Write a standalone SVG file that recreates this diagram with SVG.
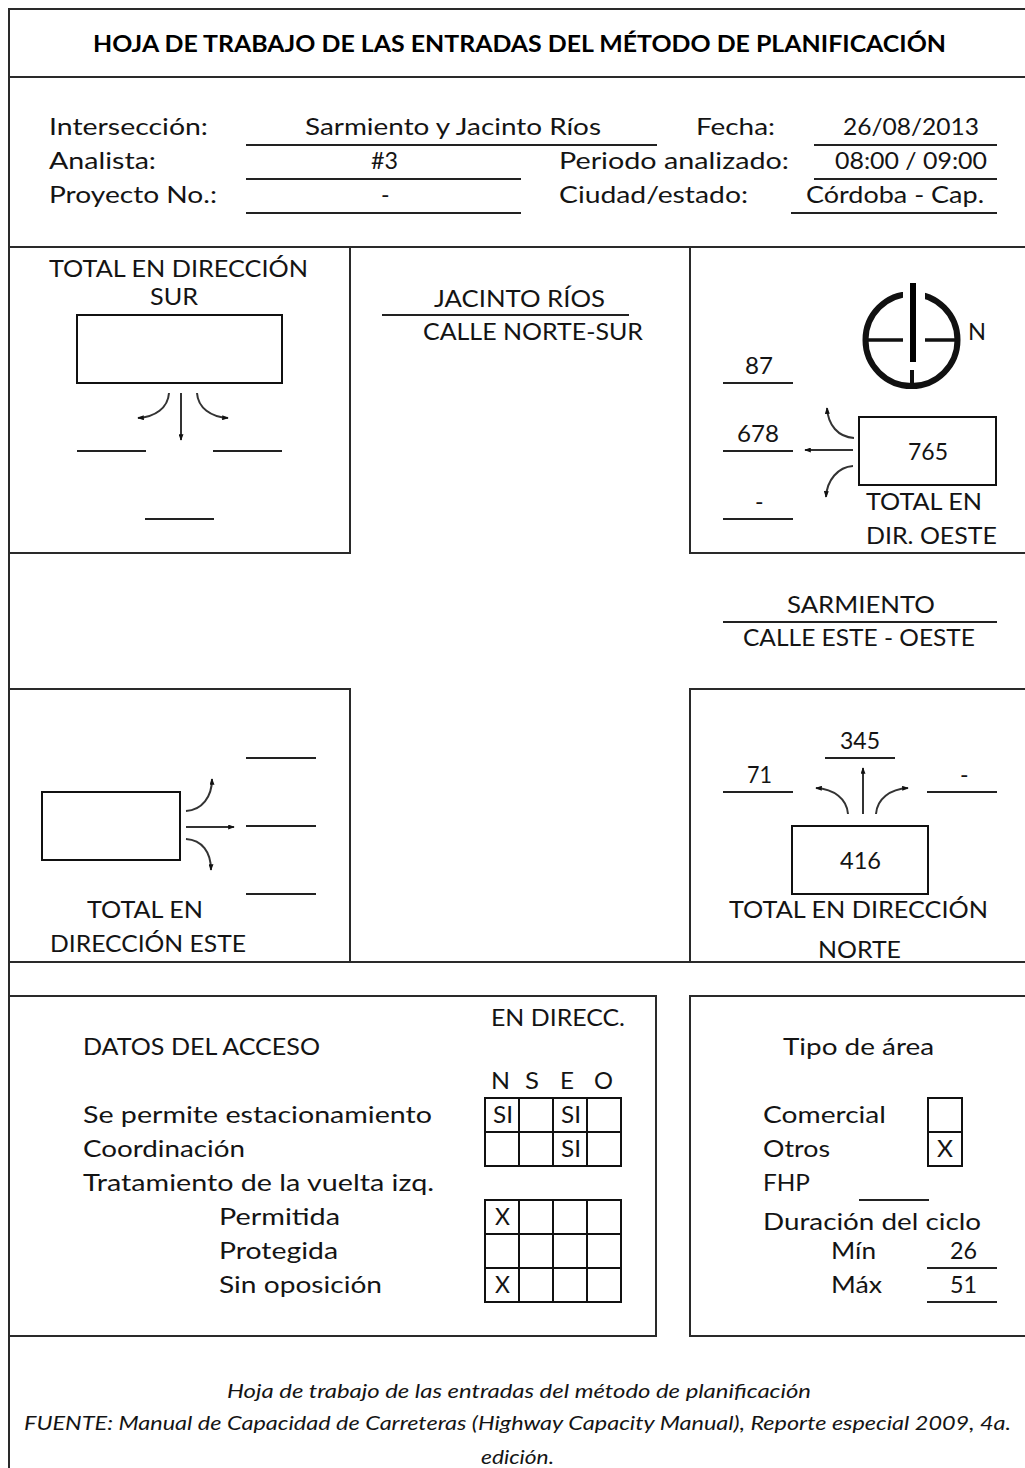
<svg xmlns="http://www.w3.org/2000/svg" width="1025" height="1468" viewBox="0 0 1025 1468">
<style>
text{font-family:"Lato","Open Sans","Liberation Sans",sans-serif;font-size:23px;fill:#141414}
.t{font-weight:700;font-size:23.5px;fill:#000}
.f{font-style:italic;font-size:19px}
.b{fill:none;stroke:#2a2a2a;stroke-width:2}
.r{stroke:#222;stroke-width:2;fill:none}
.g{fill:none;stroke:#111;stroke-width:2}
.a{fill:none;stroke:#333;stroke-width:2;marker-end:url(#h)}
</style>
<defs>
<marker id="h" viewBox="0 0 8 6" refX="7" refY="3" markerWidth="7" markerHeight="5" markerUnits="userSpaceOnUse" orient="auto"><path d="M0 0L8 3L0 6Z" fill="#111"/></marker>
</defs>
<rect width="1025" height="1468" fill="#fff"/>
<g id="frame">
<path class="b" d="M1025 9H9V1468M9 77H1025M9 247H1025M9 553H350V247M1025 553H690V247M9 689H350V962M1025 689H690V962M9 962H1025M9 996H656V1336H9M1025 996H690V1336H1025"/>
</g>
<g id="title"><text class="t" x="93" y="52" textLength="853" lengthAdjust="spacingAndGlyphs">HOJA DE TRABAJO DE LAS ENTRADAS DEL MÉTODO DE PLANIFICACIÓN</text></g>
<g id="header">
<path class="r" d="M246 145H657M246 179H521M246 213H521M814 145H997M814 179H997M791 213H997"/>
<text x="49" y="135" textLength="159" lengthAdjust="spacingAndGlyphs">Intersección:</text>
<text x="305" y="135" textLength="296" lengthAdjust="spacingAndGlyphs">Sarmiento y Jacinto Ríos</text>
<text x="696" y="135" textLength="79" lengthAdjust="spacingAndGlyphs">Fecha:</text>
<text x="843" y="135" textLength="136" lengthAdjust="spacingAndGlyphs">26/08/2013</text>
<text x="49" y="169" textLength="107" lengthAdjust="spacingAndGlyphs">Analista:</text>
<text x="371" y="169" textLength="27" lengthAdjust="spacingAndGlyphs">#3</text>
<text x="559" y="169" textLength="230" lengthAdjust="spacingAndGlyphs">Periodo analizado:</text>
<text x="835" y="169" textLength="152" lengthAdjust="spacingAndGlyphs">08:00 / 09:00</text>
<text x="49" y="203" textLength="168" lengthAdjust="spacingAndGlyphs">Proyecto No.:</text>
<text x="381" y="203">-</text>
<text x="559" y="203" textLength="189" lengthAdjust="spacingAndGlyphs">Ciudad/estado:</text>
<text x="806" y="203" textLength="178" lengthAdjust="spacingAndGlyphs">Córdoba - Cap.</text>
</g>
<g id="node-sur">
<rect class="g" x="77" y="315" width="205" height="68"/>
<path class="r" d="M77 451H146M213 451H282M145 519H214"/>
<text x="49" y="277" textLength="259" lengthAdjust="spacingAndGlyphs">TOTAL EN DIRECCIÓN</text>
<text x="150" y="305" textLength="48" lengthAdjust="spacingAndGlyphs">SUR</text>
</g>
<g id="node-jacinto">
<path class="r" d="M382 315H629"/>
<text x="434" y="307" textLength="171" lengthAdjust="spacingAndGlyphs">JACINTO RÍOS</text>
<text x="423" y="340" textLength="220" lengthAdjust="spacingAndGlyphs">CALLE NORTE-SUR</text>
</g>
<g id="node-compass">
<circle cx="911.5" cy="340" r="46" fill="none" stroke="#111" stroke-width="6"/>
<path d="M864 340H959" stroke="#111" stroke-width="3.5"/>
<path d="M912 370V386" stroke="#111" stroke-width="4"/>
<path d="M913 271L897 292H903V370H925V292H931Z" fill="#fff"/>
<path d="M913 283V362" stroke="#000" stroke-width="6"/>
<text x="968" y="340" textLength="18" lengthAdjust="spacingAndGlyphs">N</text>
</g>
<g id="node-oeste">
<rect class="g" x="859" y="417" width="137" height="68"/>
<path class="r" d="M723 383H793M723 451H793M723 519H793"/>
<text x="745" y="374" textLength="28" lengthAdjust="spacingAndGlyphs">87</text>
<text x="737" y="442" textLength="42" lengthAdjust="spacingAndGlyphs">678</text>
<text x="755" y="510">-</text>
<text x="908" y="460" textLength="40" lengthAdjust="spacingAndGlyphs">765</text>
<text x="866" y="510" textLength="116" lengthAdjust="spacingAndGlyphs">TOTAL EN</text>
<text x="866" y="544" textLength="131" lengthAdjust="spacingAndGlyphs">DIR. OESTE</text>
</g>
<g id="node-sarmiento">
<path class="r" d="M723 622H997"/>
<text x="787" y="613" textLength="148" lengthAdjust="spacingAndGlyphs">SARMIENTO</text>
<text x="743" y="646" textLength="232" lengthAdjust="spacingAndGlyphs">CALLE ESTE - OESTE</text>
</g>
<g id="node-este">
<rect class="g" x="42" y="792" width="138" height="68"/>
<path class="r" d="M246 758H316M246 826H316M246 894H316"/>
<text x="87" y="918" textLength="116" lengthAdjust="spacingAndGlyphs">TOTAL EN</text>
<text x="50" y="952" textLength="196" lengthAdjust="spacingAndGlyphs">DIRECCIÓN ESTE</text>
</g>
<g id="node-norte">
<rect class="g" x="792" y="826" width="136" height="68"/>
<path class="r" d="M825 758H895M723 792H793M927 792H997"/>
<text x="840" y="749" textLength="40" lengthAdjust="spacingAndGlyphs">345</text>
<text x="747" y="783" textLength="25" lengthAdjust="spacingAndGlyphs">71</text>
<text x="960" y="783">-</text>
<text x="840" y="869" textLength="41" lengthAdjust="spacingAndGlyphs">416</text>
<text x="729" y="918" textLength="259" lengthAdjust="spacingAndGlyphs">TOTAL EN DIRECCIÓN</text>
<text x="818" y="958" textLength="83" lengthAdjust="spacingAndGlyphs">NORTE</text>
</g>
<g id="connectors">
<path class="a" d="M169 393C168 408 155 417 138 418"/>
<path class="a" d="M181 393V440"/>
<path class="a" d="M197 393C198 408 211 417 228 418"/>
<path class="a" d="M854 438C838 437 828 425 827 408"/>
<path class="a" d="M853 450H805"/>
<path class="a" d="M853 466C838 467 827 480 826 497"/>
<path class="a" d="M186 811C202 810 212 797 212 779"/>
<path class="a" d="M186 827H234"/>
<path class="a" d="M186 839C202 840 211 852 211 870"/>
<path class="a" d="M848 814C847 799 834 789 816 788"/>
<path class="a" d="M863 814V768"/>
<path class="a" d="M876 814C877 799 890 789 908 788"/>
</g>
<g id="node-acceso">
<path class="g" d="M485 1098H621V1166H485ZM519 1098V1166M553 1098V1166M587 1098V1166M485 1132H621"/>
<path class="g" d="M485 1200H621V1302H485ZM519 1200V1302M553 1200V1302M587 1200V1302M485 1234H621M485 1268H621"/>
<text x="491" y="1026" textLength="134" lengthAdjust="spacingAndGlyphs">EN DIRECC.</text>
<text x="83" y="1055" textLength="237" lengthAdjust="spacingAndGlyphs">DATOS DEL ACCESO</text>
<text x="491" y="1089" textLength="19" lengthAdjust="spacingAndGlyphs">N</text>
<text x="525" y="1089" textLength="14" lengthAdjust="spacingAndGlyphs">S</text>
<text x="560" y="1089" textLength="14" lengthAdjust="spacingAndGlyphs">E</text>
<text x="594" y="1089" textLength="19" lengthAdjust="spacingAndGlyphs">O</text>
<text x="493" y="1123" textLength="20" lengthAdjust="spacingAndGlyphs">SI</text>
<text x="561" y="1123" textLength="20" lengthAdjust="spacingAndGlyphs">SI</text>
<text x="561" y="1157" textLength="20" lengthAdjust="spacingAndGlyphs">SI</text>
<text x="495" y="1225" textLength="15" lengthAdjust="spacingAndGlyphs">X</text>
<text x="495" y="1293" textLength="15" lengthAdjust="spacingAndGlyphs">X</text>
<text x="83" y="1123" textLength="349" lengthAdjust="spacingAndGlyphs">Se permite estacionamiento</text>
<text x="83" y="1157" textLength="162" lengthAdjust="spacingAndGlyphs">Coordinación</text>
<text x="83" y="1191" textLength="351" lengthAdjust="spacingAndGlyphs">Tratamiento de la vuelta izq.</text>
<text x="219" y="1225" textLength="121" lengthAdjust="spacingAndGlyphs">Permitida</text>
<text x="219" y="1259" textLength="119" lengthAdjust="spacingAndGlyphs">Protegida</text>
<text x="219" y="1293" textLength="163" lengthAdjust="spacingAndGlyphs">Sin oposición</text>
</g>
<g id="node-area">
<path class="g" d="M928 1098H962V1166H928ZM928 1132H962"/>
<path class="r" d="M859 1200H929M927 1268H997M927 1302H997"/>
<text x="783" y="1055" textLength="151" lengthAdjust="spacingAndGlyphs">Tipo de área</text>
<text x="763" y="1123" textLength="123" lengthAdjust="spacingAndGlyphs">Comercial</text>
<text x="763" y="1157" textLength="67" lengthAdjust="spacingAndGlyphs">Otros</text>
<text x="763" y="1191" textLength="47" lengthAdjust="spacingAndGlyphs">FHP</text>
<text x="937" y="1157" textLength="16" lengthAdjust="spacingAndGlyphs">X</text>
<text x="763" y="1230" textLength="218" lengthAdjust="spacingAndGlyphs">Duración del ciclo</text>
<text x="831" y="1259" textLength="45" lengthAdjust="spacingAndGlyphs">Mín</text>
<text x="950" y="1259" textLength="27" lengthAdjust="spacingAndGlyphs">26</text>
<text x="831" y="1293" textLength="51" lengthAdjust="spacingAndGlyphs">Máx</text>
<text x="950" y="1293" textLength="27" lengthAdjust="spacingAndGlyphs">51</text>
</g>
<g id="footer">
<text class="f" x="227" y="1398" textLength="584" lengthAdjust="spacingAndGlyphs">Hoja de trabajo de las entradas del método de planificación</text>
<text class="f" x="24" y="1430" textLength="987" lengthAdjust="spacingAndGlyphs">FUENTE: Manual de Capacidad de Carreteras (Highway Capacity Manual), Reporte especial 2009, 4a.</text>
<text class="f" x="481" y="1464" textLength="73" lengthAdjust="spacingAndGlyphs">edición.</text>
</g>
</svg>
